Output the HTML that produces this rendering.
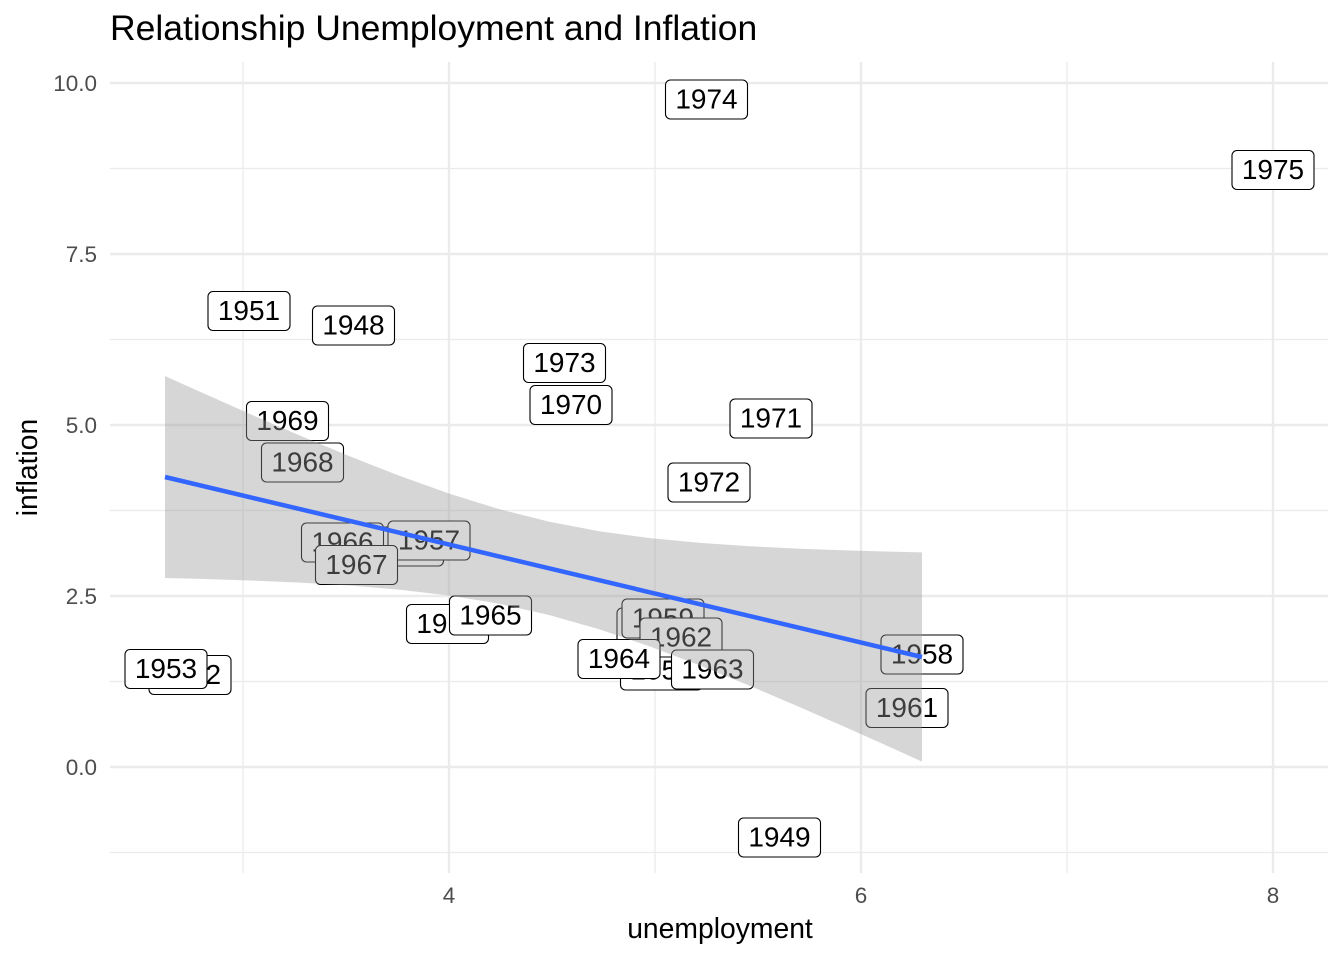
<!DOCTYPE html>
<html><head><meta charset="utf-8"><style>
html,body{margin:0;padding:0;background:#fff;}
svg{display:block;font-family:"Liberation Sans",Arial,sans-serif;}
</style></head><body>
<svg width="1344" height="960" viewBox="0 0 1344 960" xmlns="http://www.w3.org/2000/svg">
<rect width="1344" height="960" fill="#fff"/>
<!-- minor grid -->
<g stroke="#ebebeb" stroke-width="1.3" fill="none">
<line x1="110" y1="852.5" x2="1328" y2="852.5"/>
<line x1="110" y1="681.5" x2="1328" y2="681.5"/>
<line x1="110" y1="510.5" x2="1328" y2="510.5"/>
<line x1="110" y1="339.5" x2="1328" y2="339.5"/>
<line x1="110" y1="168.5" x2="1328" y2="168.5"/>
<line x1="243" y1="62" x2="243" y2="873"/>
<line x1="655" y1="62" x2="655" y2="873"/>
<line x1="1067" y1="62" x2="1067" y2="873"/>
</g>
<!-- major grid -->
<g stroke="#ebebeb" stroke-width="2.4" fill="none">
<line x1="110" y1="767" x2="1328" y2="767"/>
<line x1="110" y1="596" x2="1328" y2="596"/>
<line x1="110" y1="425" x2="1328" y2="425"/>
<line x1="110" y1="254" x2="1328" y2="254"/>
<line x1="110" y1="83" x2="1328" y2="83"/>
<line x1="449" y1="62" x2="449" y2="873"/>
<line x1="861" y1="62" x2="861" y2="873"/>
<line x1="1273" y1="62" x2="1273" y2="873"/>
</g>
<g id="labels" font-size="28" text-anchor="middle">
<g><rect x="312.5" y="306" width="82" height="39" rx="5" fill="#fff" stroke="#000" stroke-width="1.1"/><text x="353.5" y="334.5">1948</text></g>
<g><rect x="738.5" y="818" width="82" height="39" rx="5" fill="#fff" stroke="#000" stroke-width="1.1"/><text x="779.5" y="846.5">1949</text></g>
<g><rect x="208" y="291.5" width="82" height="39" rx="5" fill="#fff" stroke="#000" stroke-width="1.1"/><text x="249" y="320">1951</text></g>
<g><rect x="149" y="655.5" width="82" height="39" rx="5" fill="#fff" stroke="#000" stroke-width="1.1"/><text x="190" y="684">1952</text></g>
<g><rect x="125" y="649.5" width="82" height="39" rx="5" fill="#fff" stroke="#000" stroke-width="1.1"/><text x="166" y="678">1953</text></g>
<g><rect x="620.5" y="651" width="82" height="39" rx="5" fill="#fff" stroke="#000" stroke-width="1.1"/><text x="661.5" y="679.5">1954</text></g>
<g><rect x="617" y="608" width="82" height="39" rx="5" fill="#fff" stroke="#000" stroke-width="1.1"/><text x="658" y="636.5">1955</text></g>
<g><rect x="361.5" y="527" width="82" height="39" rx="5" fill="#fff" stroke="#000" stroke-width="1.1"/><text x="402.5" y="555.5">1956</text></g>
<g><rect x="388" y="521" width="82" height="39" rx="5" fill="#fff" stroke="#000" stroke-width="1.1"/><text x="429" y="549.5">1957</text></g>
<g><rect x="881" y="635" width="82" height="39" rx="5" fill="#fff" stroke="#000" stroke-width="1.1"/><text x="922" y="663.5">1958</text></g>
<g><rect x="622" y="599" width="82" height="39" rx="5" fill="#fff" stroke="#000" stroke-width="1.1"/><text x="663" y="627.5">1959</text></g>
<g><rect x="406.5" y="604.5" width="82" height="39" rx="5" fill="#fff" stroke="#000" stroke-width="1.1"/><text x="447.5" y="633">1960</text></g>
<g><rect x="866" y="688.5" width="82" height="39" rx="5" fill="#fff" stroke="#000" stroke-width="1.1"/><text x="907" y="717">1961</text></g>
<g><rect x="640" y="618" width="82" height="39" rx="5" fill="#fff" stroke="#000" stroke-width="1.1"/><text x="681" y="646.5">1962</text></g>
<g><rect x="671.5" y="650" width="82" height="39" rx="5" fill="#fff" stroke="#000" stroke-width="1.1"/><text x="712.5" y="678.5">1963</text></g>
<g><rect x="578" y="639.5" width="82" height="39" rx="5" fill="#fff" stroke="#000" stroke-width="1.1"/><text x="619" y="668">1964</text></g>
<g><rect x="449.5" y="596" width="82" height="39" rx="5" fill="#fff" stroke="#000" stroke-width="1.1"/><text x="490.5" y="624.5">1965</text></g>
<g><rect x="301.5" y="523" width="82" height="39" rx="5" fill="#fff" stroke="#000" stroke-width="1.1"/><text x="342.5" y="551.5">1966</text></g>
<g><rect x="315.5" y="545.5" width="82" height="39" rx="5" fill="#fff" stroke="#000" stroke-width="1.1"/><text x="356.5" y="574">1967</text></g>
<g><rect x="261.5" y="443" width="82" height="39" rx="5" fill="#fff" stroke="#000" stroke-width="1.1"/><text x="302.5" y="471.5">1968</text></g>
<g><rect x="246.5" y="401.5" width="82" height="39" rx="5" fill="#fff" stroke="#000" stroke-width="1.1"/><text x="287.5" y="430">1969</text></g>
<g><rect x="530" y="385.5" width="82" height="39" rx="5" fill="#fff" stroke="#000" stroke-width="1.1"/><text x="571" y="414">1970</text></g>
<g><rect x="730" y="399" width="82" height="39" rx="5" fill="#fff" stroke="#000" stroke-width="1.1"/><text x="771" y="427.5">1971</text></g>
<g><rect x="668" y="463" width="82" height="39" rx="5" fill="#fff" stroke="#000" stroke-width="1.1"/><text x="709" y="491.5">1972</text></g>
<g><rect x="523.5" y="343.5" width="82" height="39" rx="5" fill="#fff" stroke="#000" stroke-width="1.1"/><text x="564.5" y="372">1973</text></g>
<g><rect x="665.5" y="80" width="82" height="39" rx="5" fill="#fff" stroke="#000" stroke-width="1.1"/><text x="706.5" y="108.5">1974</text></g>
<g><rect x="1232" y="150.5" width="82" height="39" rx="5" fill="#fff" stroke="#000" stroke-width="1.1"/><text x="1273" y="179">1975</text></g>
</g>
<!-- confidence ribbon -->
<polygon fill="#999999" fill-opacity="0.4" points="165,376.04 200,391.80 250,413.98 300,435.61 350,456.42 400,476.04 450,493.92 500,509.40 550,521.91 600,531.35 650,538.13 700,542.91 750,546.30 800,548.74 850,550.55 900,551.90 922,552.38 922,761.64 900,751.66 850,729.23 800,707.26 750,685.92 700,665.53 650,646.53 600,629.53 550,615.19 500,603.92 450,595.62 400,589.72 350,585.56 300,582.59 250,580.44 200,578.84 165,577.96"/>
<!-- regression line -->
<line x1="165" y1="477" x2="922" y2="657" stroke="#3366FF" stroke-width="4.5" stroke-linecap="butt"/>
<!-- y tick labels -->
<g font-size="22.5" fill="#4d4d4d" text-anchor="end">
<text x="97" y="91">10.0</text>
<text x="97" y="262">7.5</text>
<text x="97" y="433">5.0</text>
<text x="97" y="604">2.5</text>
<text x="97" y="775">0.0</text>
</g>
<!-- x tick labels -->
<g font-size="22.5" fill="#4d4d4d" text-anchor="middle">
<text x="449" y="903">4</text>
<text x="861" y="903">6</text>
<text x="1273" y="903">8</text>
</g>
<!-- axis titles -->
<text x="720" y="938" font-size="28.3" text-anchor="middle" fill="#000">unemployment</text>
<text transform="translate(37,467.5) rotate(-90)" font-size="28.3" text-anchor="middle" fill="#000">inflation</text>
<!-- title -->
<text x="110" y="40" font-size="35.5" fill="#000">Relationship Unemployment and Inflation</text>
</svg>
</body></html>
